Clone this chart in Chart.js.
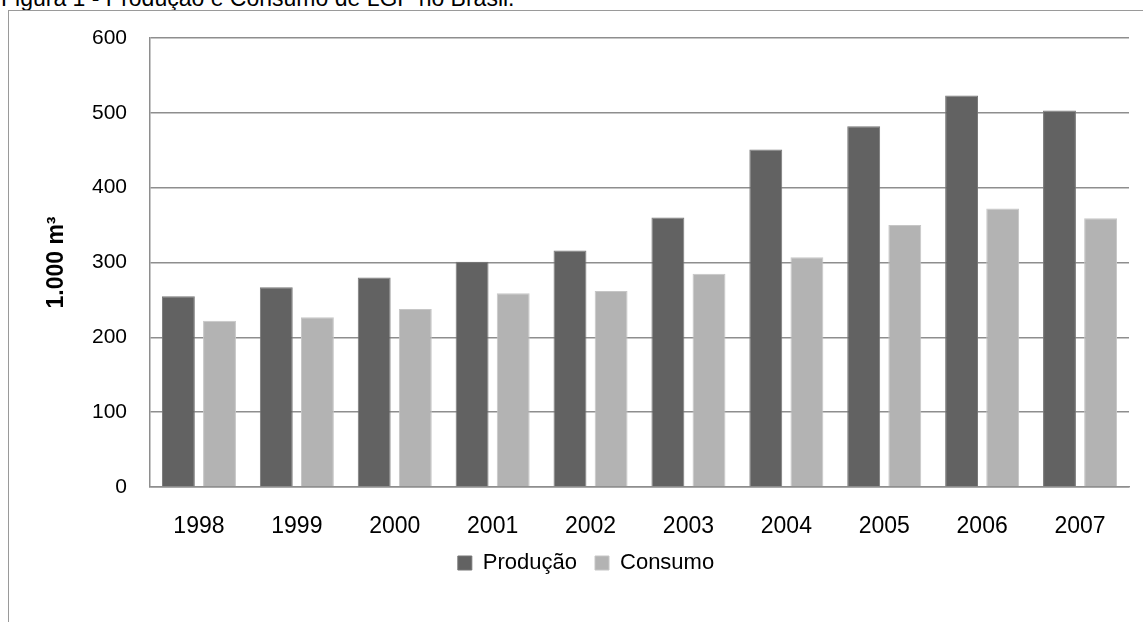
<!DOCTYPE html>
<html>
<head>
<meta charset="utf-8">
<script src="https://cdn.jsdelivr.net/npm/chart.js@4.4.1/dist/chart.umd.min.js"></script>
<style>
  html, body { margin: 0; padding: 0; background: #fff; overflow: hidden; }
  #title { position: absolute; left: 1px; top: -13px; font: 23px "Liberation Sans", Arial, sans-serif; color: #000; white-space: nowrap; line-height: 23px; }
  #frame { position: absolute; left: 8px; top: 10px; width: 1200px; height: 700px; border-left: 1px solid #9a9a9a; border-top: 1px solid #9a9a9a; }
  #wrap { position: absolute; left: 0; top: 0; width: 1143px; height: 622px; }
</style>
</head>
<body>
<div id="title">Figura 1 - Produção e Consumo de LGP no Brasil.</div>
<div id="frame"></div>
<div id="wrap"><canvas id="chart"></canvas></div>
<script>
// data (1.000 m³)
const years = ['1998','1999','2000','2001','2002','2003','2004','2005','2006','2007'];
const producao = [255, 267, 280, 301, 316, 360, 451, 482, 523, 503];
const consumo  = [222, 227, 238, 259, 262, 285, 307, 350, 372, 359];
const yTicks = [0, 100, 200, 300, 400, 500, 600];

const gridGray = '#8e8e8e';
const sans = '"Liberation Sans", Arial, sans-serif';

new Chart(document.getElementById('chart'), {
  type: 'bar',
  data: {
    labels: years,
    datasets: [
      { label: 'Produção', data: producao, backgroundColor: '#626262', borderColor: '#777777', borderWidth: 1,
        categoryPercentage: 0.84, barPercentage: 0.8 },
      { label: 'Consumo', data: consumo, backgroundColor: '#b3b3b3', borderColor: '#c6c6c6', borderWidth: 1,
        categoryPercentage: 0.84, barPercentage: 0.8 }
    ]
  },
  options: {
    responsive: true,
    maintainAspectRatio: false,
    animation: false,
    layout: { padding: { left: 43, right: 14, top: 38, bottom: 38 } },
    plugins: {
      tooltip: { enabled: false },
      legend: {
        position: 'bottom',
        labels: {
          color: '#000',
          font: { family: sans, size: 22 },
          boxWidth: 14, boxHeight: 14, padding: 18
        }
      }
    },
    scales: {
      x: {
        grid: { display: false, drawTicks: false },
        border: { color: gridGray, width: 1.5 },
        ticks: { color: '#000', font: { family: sans, size: 23 }, padding: 26 },
        afterFit: s => { s.height = 47; }
      },
      y: {
        min: 0, max: 600,
        afterBuildTicks: s => { s.ticks = yTicks.map(v => ({ value: v })); },
        grid: { color: gridGray, lineWidth: 1.5, drawTicks: false },
        border: { color: gridGray, width: 1.5 },
        ticks: { color: '#000', font: { family: sans, size: 21 }, padding: 23 },
        title: { display: true, text: '1.000 m³', color: '#000', font: { family: sans, size: 23, weight: 'bold' }, padding: 0 },
        afterFit: s => { s.width = 107; }
      }
    }
  }
});
</script>
</body>
</html>
